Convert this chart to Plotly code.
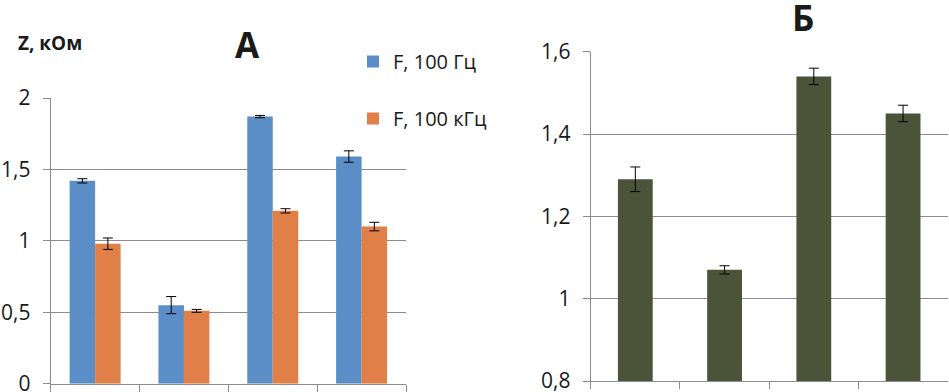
import plotly.graph_objects as go

W, H = 949, 392

# ---- data ----
categories = ["1", "2", "3", "4"]
series_a_names = ["F, 100 Гц", "F, 100 кГц"]
a_100hz = [1.42, 0.55, 1.87, 1.59]
a_100hz_err = [0.015, 0.06, 0.008, 0.04]
a_100khz = [0.98, 0.51, 1.21, 1.10]
a_100khz_err = [0.04, 0.01, 0.015, 0.03]
b_values = [1.29, 1.07, 1.54, 1.45]
b_err = [0.03, 0.01, 0.02, 0.02]

a_tickvals = [0, 0.5, 1, 1.5, 2]
a_ticktext = ["0", "0,5", "1", "1,5", "2"]
b_tickvals = [0.8, 1.0, 1.2, 1.4, 1.6]
b_ticktext = ["0,8", "1", "1,2", "1,4", "1,6"]

BLUE = "#5B8EC6"
ORANGE = "#E07F47"
OLIVE = "#4B5339"
GRID = "#8C8C8C"
FONT = "Open Sans"


def px_x(p):
    return p / W


def px_y(p):
    return 1 - p / H


fig = go.Figure()

fig.add_trace(go.Bar(
    x=categories, y=a_100hz, name=series_a_names[0], marker_color=BLUE,
    marker_line_width=0, xaxis="x", yaxis="y", legendgroup="a",
    error_y=dict(type="data", array=a_100hz_err, color="black", thickness=1, width=5),
))
fig.add_trace(go.Bar(
    x=categories, y=a_100khz, name=series_a_names[1], marker_color=ORANGE,
    marker_line_width=0, xaxis="x", yaxis="y", legendgroup="b",
    error_y=dict(type="data", array=a_100khz_err, color="black", thickness=1, width=5),
))
fig.add_trace(go.Bar(
    x=categories, y=b_values, marker_color=OLIVE, marker_line_width=0,
    xaxis="x2", yaxis="y2", showlegend=False, width=0.39,
    error_y=dict(type="data", array=b_err, color="black", thickness=1, width=5),
))

axis_common = dict(
    showline=True, linecolor=GRID, linewidth=1,
    ticks="outside", ticklen=7, tickcolor=GRID, tickwidth=1,
    automargin=False, zeroline=False,
)

fig.update_layout(
    width=W, height=H,
    margin=dict(l=0, r=0, t=0, b=0),
    paper_bgcolor="white", plot_bgcolor="white",
    font=dict(family=FONT, size=21, color="#1a1a1a"),
    barmode="group", bargap=0.426, bargroupgap=0,
    xaxis=dict(domain=[px_x(50.7), px_x(406)], showticklabels=False,
               tickson="boundaries", showgrid=False, anchor="y", **axis_common),
    yaxis=dict(domain=[px_y(383.7), px_y(98)], range=[0, 2],
               tickvals=a_tickvals, ticktext=a_ticktext,
               showgrid=True, gridcolor=GRID, gridwidth=1,
               ticklabelstandoff=8, ticklabeloverflow="allow",
               anchor="x", **axis_common),
    xaxis2=dict(domain=[px_x(590.7), px_x(947.7)], showticklabels=False,
                tickson="boundaries", showgrid=False, anchor="y2", **axis_common),
    yaxis2=dict(domain=[px_y(381), px_y(51.7)], range=[0.8, 1.6],
                tickvals=b_tickvals, ticktext=b_ticktext,
                showgrid=True, gridcolor=GRID, gridwidth=1,
                ticklabelstandoff=8, ticklabeloverflow="allow",
                anchor="x2", **axis_common),
    legend=dict(x=px_x(353), xanchor="left", y=px_y(42), yanchor="top",
                font=dict(size=20, family=FONT), tracegroupgap=28,
                bgcolor="rgba(0,0,0,0)"),
    showlegend=True,
    annotations=[
        dict(text="<b>А</b>", x=px_x(247), y=px_y(45), xref="paper", yref="paper",
             showarrow=False, font=dict(size=35, family=FONT, color="#1a1a1a"),
             xanchor="center", yanchor="middle"),
        dict(text="<b>Б</b>", x=px_x(802.5), y=px_y(17), xref="paper", yref="paper",
             showarrow=False, font=dict(size=35, family=FONT, color="#1a1a1a"),
             xanchor="center", yanchor="middle"),
        dict(text="<b>Z, кОм</b>", x=px_x(16), y=px_y(43), xref="paper", yref="paper",
             showarrow=False, font=dict(size=19, family=FONT, color="#1a1a1a"),
             xanchor="left", yanchor="middle"),
    ],
)

fig.write_html("out.html", config={"displayModeBar": False},
               post_script="document.body.style.margin='0';")
